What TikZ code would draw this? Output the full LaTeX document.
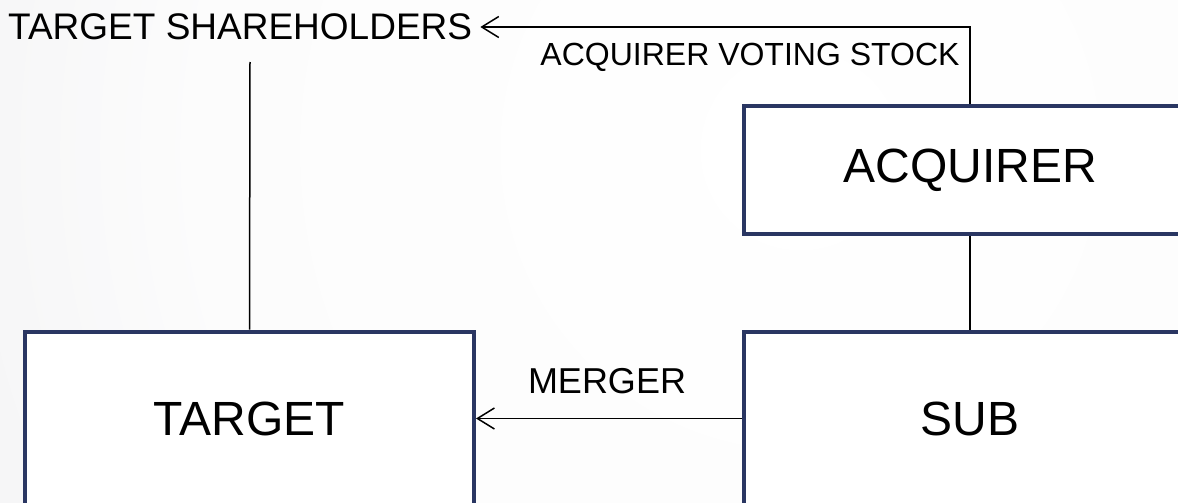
\documentclass[tikz,border=0pt]{standalone}
\usepackage{fontspec}
\setmainfont{Liberation Sans}
\usetikzlibrary{arrows.meta}
\definecolor{boxnavy}{RGB}{42,54,98}
% soft light wash, bright towards the upper middle, greyer at the left edge
\pgfdeclareradialshading{bgwash}{\pgfpoint{0bp}{0bp}}{%
  color(0bp)=(white);
  color(15bp)=(rgb,255:red,252;green,252;blue,252);
  color(20bp)=(rgb,255:red,247;green,247;blue,248);
  color(30bp)=(rgb,255:red,239;green,239;blue,240);
  color(40bp)=(rgb,255:red,229;green,229;blue,231);
  color(45bp)=(rgb,255:red,219;green,221;blue,225);
  color(50bp)=(rgb,255:red,210;green,213;blue,218)}
\begin{document}
\begin{tikzpicture}[x=1pt,y=-1pt,
  entity/.style={draw=boxnavy, line width=4pt, fill=white, rectangle, inner sep=0pt,
                 font=\fontsize{48}{56}\selectfont},
  link/.style={line width=1.5pt, draw=black},
  flow/.style={link, -{Straight Barb[length=17pt,width=21pt,line width=1.5pt]}},
  caption/.style={inner sep=0pt}
]
% canvas and background wash
\clip (0,0) rectangle (1178,503);
\shade[shading=bgwash] (800,150) circle (1000pt);

% parties
\node[entity, minimum width=449pt, minimum height=174pt] (tgt) at (249.5,418.5) {TARGET};
\node[entity, minimum width=452pt, minimum height=174pt] (sub) at (970,418.5) {SUB};
\node[entity, minimum width=452pt, minimum height=128pt] (acq) at (970,170) {ACQUIRER};

% labels
\node[caption, inner xsep=8pt, anchor=west, font=\fontsize{37}{44}\selectfont] (ts) at (0,27) {TARGET SHAREHOLDERS};
\node[caption, font=\fontsize{32}{38}\selectfont] (avs) at (750,57) {ACQUIRER VOTING STOCK};
\node[caption, font=\fontsize{36}{42}\selectfont] (mrg) at (607,381) {MERGER};
\coordinate (tsfoot) at (250,62);

% connectors
\draw[flow] (acq.north) |- (ts.east);
\draw[link] (acq.south) -- (sub.north);
\draw[link] (tgt.north) -- (tsfoot);
\draw[flow] (sub.west) -- (tgt.east);
\end{tikzpicture}
\end{document}
